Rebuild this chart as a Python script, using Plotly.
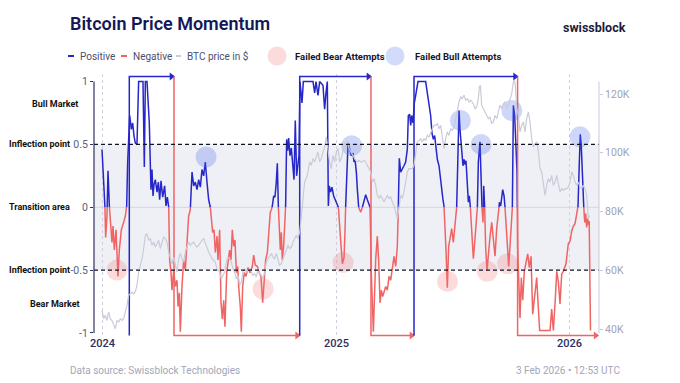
import pandas as pd
import plotly.graph_objects as go

BASE = pd.Timestamp("2024-01-01")

# ---------------- data ----------------
# momentum: day offset since 2024-01-01, value in [-1, 1]
momentum_day = [
    0, 2.6, 4.5, 5.7, 7.8, 9.4, 11.5, 13.0, 15.6, 17.2, 19.3, 21.9, 23.5, 25.0, 27.1, 30.2, 33.9, 36.5, 38.6,
    40.1, 41.7, 43.3, 45.9, 48.0, 50.0, 52.1, 54.7, 57.3, 62.5, 64.1, 66.2, 67.8, 70.4, 72.0, 74.0, 76.6, 78.2,
    79.8, 81.3, 83.4, 86.0, 88.1, 90.2, 92.3, 94.9, 98.0, 100.1, 102.2, 104.3, 105.8, 107.9, 109.5, 112.1, 114.7,
    117.3, 118.9, 121.0, 122.5, 125.1, 127.7, 130.3, 133.0, 135.5, 138.1, 140.8, 143.4, 146.0, 148.6, 151.2,
    153.8, 156.4, 159.0, 161.6, 164.2, 166.8, 169.4, 171.0, 173.1, 175.2, 177.2, 179.9, 181.4, 184.0, 186.1,
    188.2, 190.3, 192.3, 195.0, 197.6, 199.6, 201.7, 203.8, 205.9, 208.0, 210.1, 212.2, 214.2, 216.3, 217.9,
    220.0, 222.6, 225.2, 228.3, 231.4, 235.1, 237.2, 239.8, 242.9, 246.0, 248.6, 251.3, 253.3, 255.9, 258.6,
    261.2, 263.2, 264.8, 266.4, 268.5, 270.5, 272.6, 274.2, 275.8, 277.3, 278.9, 280.5, 282.0, 284.1, 285.7,
    287.2, 288.8, 290.4, 291.9, 294.0, 296.1, 298.2, 300.3, 302.3, 304.4, 306.5, 308.1, 309.6, 312.8, 314.9,
    330.0, 332.6, 334.7, 337.8, 340.4, 345.6, 348.2, 350.3, 352.4, 354.0, 355.5, 357.6, 359.7, 362.3, 364.9,
    367.5, 369.6, 371.0, 373.5, 376.0, 378.5, 380.0, 381.1, 384.8, 387.9, 390.0, 392.6, 394.1, 395.7, 397.8,
    399.4, 400.9, 402.5, 404.6, 407.2, 409.8, 412.4, 415.0, 417.6, 419.2, 421.2, 424.4, 428.0, 430.6, 432.7,
    434.8, 436.9, 439.0, 441.1, 443.7, 446.3, 448.9, 451.5, 454.1, 456.7, 459.3, 461.9, 463.5, 465.0, 467.1,
    469.7, 472.3, 474.9, 477.5, 479.1, 481.2, 482.8, 484.3, 486.4, 488.5, 490.6, 494.2, 506.2, 508.8, 511.4,
    514.0, 516.1, 518.2, 520.3, 522.4, 524.5, 527.1, 529.7, 531.2, 533.3, 534.9, 536.5, 538.0, 540.1, 542.2,
    544.3, 546.9, 549.5, 552.1, 554.7, 558.4, 559.9, 561.5, 563.1, 564.6, 566.2, 567.8, 569.3, 571.4, 573.0,
    574.5, 576.1, 578.2, 580.8, 582.9, 585.0, 587.0, 588.6, 591.2, 592.8, 594.3, 595.9, 597.0, 598.5, 600.1,
    602.2, 604.3, 606.9, 609.5, 612.1, 614.7, 617.3, 619.9, 621.5, 623.5, 626.7, 628.8, 630.3, 632.4, 634.5,
    636.1, 638.1, 640.2, 641.8, 643.4, 645.4, 647.5, 649.1, 650.1, 652.2, 653.8, 655.8, 658.0, 660.5, 663.1,
    665.8, 668.3, 671.0, 673.6, 676.7, 679.9, 682.4, 684.5, 690.2, 700.7, 703.3, 705.9, 708.5, 711.2, 713.7,
    716.3, 719.0, 721.5, 725.7, 729.3, 732.0, 734.6, 737.2, 739.8, 742.5, 744.5, 746.5, 748.0, 749.5, 751.0,
    752.5, 753.5, 755.0, 756.5, 758.0, 759.5, 761.0, 762.0, 763.0, 764.0,
]
momentum_val = [
    0.46, 0.20, 0.02, -0.24, -0.07, 0.29, 0.01, -0.12, -0.28, -0.15, -0.34, -0.18, -0.42, -0.55, -0.34, -0.18, -0.12, -0.07, 0.01,
    0.35, 0.49, 0.73, 0.62, 0.67, 0.57, 0.51, 0.50, 1.0, 1.0, 1.0, 0.32, 1.0, 1.0, 0.86, 0.67, 0.14, 0.30,
    0.09, 0.18, 0.22, 0.12, 0.20, 0.06, 0.21, 0.08, 0.17, 0.01, 0.08, 0.01, -0.42, -0.52, -0.66, -0.50, -0.63,
    -0.58, -0.79, -0.68, -0.99, -0.63, -0.42, -0.50, -0.31, -0.07, -0.02, 0.28, 0.17, 0.20, 0.14, 0.22,
    0.16, 0.30, 0.25, 0.36, 0.20, 0.06, 0.0, -0.12, -0.20, -0.18, -0.36, -0.23, -0.42, -0.18, -0.76,
    -0.89, -0.74, -0.95, -0.52, -0.42, -0.34, -0.42, -0.18, -0.31, -0.26, -0.52, -0.47, -0.66, -0.79, -0.99,
    -0.63, -0.52, -0.55, -0.48, -0.52, -0.47, -0.38, -0.46, -0.47, -0.52, -0.55, -0.76, -0.58, -0.42, -0.36,
    -0.20, -0.04, -0.02, 0.01, 0.09, 0.08, 0.20, 0.35, 0.01, -0.18, -0.34, -0.20, -0.42, -0.31, -0.12,
    0.01, 0.54, 0.45, 0.55, 0.41, 0.47, 0.30, 0.22, 0.69, 0.25, 0.34, 0.41, 1.0, 0.83, 1.0,
    1.0, 0.91, 1.0, 0.89, 1.0, 0.97, 0.78, 0.91, 1.0, 0.01, 0.17, 0.12, 0.16, 0.09, 0.06,
    0.02, 0.01, -0.12, -0.28, -0.45, -0.40, -0.20, 0.01, 0.51, 0.46, 0.41, 0.43, 0.36, 0.38, 0.28,
    0.14, 0.01, -0.02, -0.04, 0.0, 0.06, 0.10, 0.06, 0.02, 0.01, -0.52, -0.99, -0.42, -0.23, -0.42,
    -0.76, -0.66, -0.71, -0.67, -0.63, -0.66, -0.55, -0.58, -0.50, -0.39, -0.47, -0.31, 0.01, 0.39, 0.28,
    0.30, 0.33, 0.36, 0.46, 0.73, 0.74, 0.65, 0.73, 0.67, 0.83, 0.89, 1.0, 1.0, 0.91, 0.83,
    0.73, 0.59, 0.54, 0.57, 0.46, 0.38, 0.33, 0.20, 0.12, 0.06, 0.01, -0.26, -0.34, -0.64, -0.31,
    -0.25, -0.17, -0.28, -0.15, 0.0, 0.77, 0.62, 0.49, 0.41, 0.33, 0.38, 0.34, 0.37, 0.20, 0.04,
    0.09, 0.0, -0.17, -0.41, -0.28, -0.12, -0.02, 0.36, 0.52, 0.25, 0.0, -0.12, 0.17, 0.0, -0.33,
    -0.50, -0.36, -0.23, -0.12, -0.28, -0.39, -0.17, -0.07, 0.04, 0.01, 0.14, 0.09, 0.0, -0.20, -0.33,
    -0.47, -0.31, -0.12, 0.0, 0.81, 0.73, 0.49, 0.28, -0.31, -0.64, -0.88, -0.56, -0.74, -0.51, -0.45,
    -0.37, -0.48, -0.39, -0.85, -0.72, -0.56, -0.80, -0.98, -0.98, -0.98, -0.81, -0.98, -0.77, -0.51, -0.59,
    -0.77, -0.53, -0.51, -0.45, -0.29, -0.27, -0.19, -0.15, -0.13, -0.05, 0.01, 0.35, 0.58, 0.50, 0.30,
    0.10, 0.0, -0.12, -0.05, -0.16, -0.09, -0.14, -0.11, -0.98, -0.98,
]

# BTC price: day offset since 2024-01-01, price in thousand USD
price_day = [
    0.0, 2.6, 5.2, 7.8, 10.4, 13.0, 15.6, 18.2, 20.9, 23.5, 26.1, 28.7, 31.3, 33.9, 36.5, 39.1, 41.7, 44.3,
    46.9, 49.5, 52.1, 54.7, 57.3, 59.9, 62.6, 65.2, 67.8, 70.4, 73.0, 75.6, 78.2, 80.8, 83.4, 86.0, 88.6,
    91.2, 93.8, 96.4, 99.1, 101.7, 104.3, 106.9, 109.5, 112.1, 114.7, 117.3, 119.9, 122.5, 125.1, 127.7,
    130.3, 133.0, 135.5, 138.1, 140.8, 143.4, 146.0, 148.6, 151.2, 153.8, 156.4, 159.0, 161.6, 164.2, 166.8,
    169.4, 172.0, 174.6, 177.2, 179.9, 184.0, 186.6, 189.2, 191.8, 194.4, 197.0, 199.6, 202.3, 204.9, 207.5,
    210.1, 212.7, 215.3, 217.9, 220.5, 223.1, 225.7, 228.3, 230.9, 233.5, 236.1, 238.7, 241.4, 244.0, 246.6,
    249.2, 251.8, 254.4, 257.0, 259.6, 262.2, 264.8, 267.4, 270.0, 272.6, 275.2, 277.8, 280.4, 283.1, 285.7,
    288.3, 290.9, 293.5, 296.1, 298.7, 301.3, 303.9, 306.5, 309.1, 310.7, 312.8, 314.9, 316.9, 319.5, 322.2,
    324.8, 327.4, 330.0, 332.6, 335.2, 337.8, 340.4, 343.0, 345.6, 348.2, 350.8, 353.4, 356.0, 358.6, 361.2,
    363.9, 366.5, 369.1, 371.7, 374.3, 376.9, 379.5, 381.1, 383.7, 386.3, 388.9, 391.5, 394.1, 396.7, 399.4,
    402.0, 404.6, 407.2, 409.8, 412.4, 415.0, 417.6, 420.2, 422.8, 425.4, 428.0, 430.6, 433.2, 435.8, 438.5,
    441.1, 443.7, 446.3, 448.9, 451.5, 454.1, 456.7, 459.3, 461.9, 463.5, 465.6, 467.1, 469.7, 472.3, 474.9,
    477.5, 480.2, 482.8, 485.4, 488.0, 490.6, 493.2, 495.8, 498.4, 501.0, 503.6, 506.2, 508.8, 511.4, 514.0,
    516.6, 519.3, 521.9, 524.5, 527.1, 529.7, 532.3, 534.9, 537.5, 540.1, 542.7, 545.3, 547.9, 550.5, 553.1,
    555.7, 558.3, 561.0, 563.6, 566.2, 568.8, 571.4, 574.0, 576.6, 580.8, 583.4, 586.0, 588.6, 590.2, 591.8,
    593.8, 596.5, 599.1, 601.7, 604.3, 606.9, 609.5, 612.1, 614.7, 617.3, 619.9, 622.5, 625.1, 627.7, 630.3,
    632.9, 635.6, 638.2, 640.8, 643.4, 644.9, 646.5, 648.6, 651.2, 653.8, 656.4, 659.0, 661.6, 664.2, 666.8,
    669.4, 672.0, 674.6, 677.3, 679.9, 682.5, 685.1, 687.7, 690.3, 692.9, 695.5, 698.1, 700.7, 703.3, 705.9,
    708.5, 711.1, 713.7, 716.4, 719.0, 721.6, 724.2, 726.8, 729.4, 732.0, 734.6, 737.2, 739.8, 742.4, 745.0,
    747.6, 750.2, 752.8, 755.4, 758.1, 760.7, 762.2,
]
price_k = [
    46.4, 43.5, 44.7, 42.9, 45.8, 43.5, 42.9, 41.3, 40.1, 42.9, 42.4, 43.5, 42.9, 43.5, 45.8, 48.1, 51.5, 52.0,
    52.6, 52.0, 52.6, 54.9, 59.4, 61.7, 63.9, 67.4, 71.9, 72.5, 70.2, 70.8, 68.5, 69.6, 67.9, 69.1, 70.2,
    67.4, 69.6, 71.3, 70.8, 69.6, 66.2, 63.9, 62.2, 64.5, 61.7, 59.4, 63.9, 65.7, 63.9, 62.8,
    66.2, 68.5, 69.6, 68.5, 69.1, 69.6, 68.5, 67.9, 68.5, 69.6, 70.2, 70.8, 69.1, 67.4, 66.2,
    65.1, 63.9, 63.4, 62.8, 60.5, 59.4, 57.1, 58.3, 59.4, 62.8, 64.5, 63.9, 62.8, 60.5, 59.4,
    57.1, 58.3, 54.9, 56.0, 59.4, 60.5, 59.4, 60.0, 60.5, 59.4, 58.3, 58.8, 57.7, 60.5, 58.8,
    58.3, 57.1, 59.4, 62.8, 63.9, 65.1, 65.7, 64.5, 63.9, 65.7, 63.9, 61.7, 62.2, 63.9, 65.7,
    67.4, 68.5, 67.4, 67.9, 69.6, 70.8, 71.9, 70.8, 73.0, 75.9, 79.8, 85.5, 90.0, 91.2, 93.5,
    96.9, 95.7, 98.0, 96.9, 99.1, 100.3, 96.9, 98.0, 100.3, 102.0, 105.4, 100.3, 96.9, 94.6, 99.1,
    96.9, 100.3, 101.4, 96.9, 98.0, 101.4, 103.7, 101.4, 104.2, 101.4, 100.3, 99.1, 98.0, 97.4, 96.9,
    97.4, 96.9, 96.9, 97.4, 96.9, 95.7, 94.6, 93.5, 90.0, 91.2, 88.9, 85.5, 84.4, 85.5, 84.4,
    83.2, 84.4, 85.5, 84.4, 85.0, 83.2, 82.1, 79.8, 77.6, 79.8, 83.2, 85.5, 84.4, 86.6, 90.0,
    93.5, 94.6, 94.6, 94.6, 95.7, 99.1, 103.7, 104.2, 104.8, 103.7, 104.8, 104.2, 105.9, 105.4, 107.1,
    108.2, 109.3, 109.3, 109.9, 108.2, 109.3, 104.8, 101.4, 104.8, 107.1, 105.9, 108.2, 107.6, 108.8, 111.6,
    113.9, 117.3, 119.0, 118.4, 119.6, 117.9, 118.4, 117.3, 117.9, 116.7, 115.0, 115.6, 118.4, 122.4, 123.0,
    116.2, 115.0, 113.9, 112.7, 111.6, 112.2, 109.9, 110.5, 112.7, 111.6, 113.9, 116.2, 115.0, 116.7, 117.3,
    115.0, 116.2, 118.4, 120.1, 124.1, 124.7, 123.0, 115.0, 112.7, 107.1, 109.3, 110.5, 107.1, 111.6, 113.9,
    110.5, 104.8, 102.0, 103.1, 103.7, 100.3, 94.6, 93.5, 88.9, 85.5, 88.9, 91.2, 90.0, 92.3, 88.9,
    90.0, 92.3, 88.9, 86.6, 87.8, 87.2, 87.8, 87.8, 88.4, 90.0, 93.5, 92.3, 90.0, 88.9, 90.0,
    88.4, 87.8, 88.9, 87.8, 85.5, 77.6, 78.7,
]

# regime boxes (day offsets of regime changes)
regime_start_day = [42.7, 112.6, 309.2, 420.7, 488.0, 650.0]
regime_kind = ["bull", "bear", "bull", "bear", "bull", "bear"]
regime_last_day = 776.0

# failed attempts markers
bear_fail_day = [23.5, 251.8, 377.0, 540.4, 602.4, 634.5]
bear_fail_val = [-0.50, -0.65, -0.44, -0.59, -0.51, -0.45]
bull_fail_day = [162.7, 390.5, 560.5, 592.8, 641.0, 747.6]
bull_fail_val = [0.40, 0.49, 0.69, 0.50, 0.77, 0.56]

y_tick_vals = [-1, -0.5, 0, 0.5, 1]
y_tick_text = ["-1", "-0.5", "0", "0.5", "1"]
price_tick_vals = [40, 60, 80, 100, 120]
price_tick_text = ["40K", "60K", "80K", "100K", "120K"]
year_ticks = ["2024-01-01", "2025-01-01", "2026-01-01"]
year_text = ["2024", "2025", "2026"]

zone_labels = ["Bull Market", "Inflection point", "Transition area", "Inflection point", "Bear Market"]
zone_vals = [0.82, 0.5, 0.0, -0.5, -0.77]

# ---------------- styling ----------------
FONT = "Roboto"
BLUE = "#2626c9"
RED = "#f06464"
GRAY = "#c9cbd9"
BOX_TOP, BOX_BOTTOM = 1.04, -1.02

# page coordinates of the reference (the page body adds an 8px offset)
OFF = 8
W, H = 680 - OFF, 383 - OFF
PL, PR, PT, PB = 94, 599, 74, 338   # plot area in page pixels


def px(x):
    return (x - PL) / (PR - PL)


def py(y):
    return (PB - y) / (PB - PT)


def to_dates(days):
    return [BASE + pd.Timedelta(days=float(d)) for d in days]


# split momentum into positive / negative parts
pos_x, pos_y, neg_x, neg_y = [], [], [], []
for i, (d, v) in enumerate(zip(momentum_day, momentum_val)):
    if i > 0:
        d0, v0 = momentum_day[i - 1], momentum_val[i - 1]
        if (v0 > 0 > v) or (v0 < 0 < v):
            dc = d0 + (d - d0) * v0 / (v0 - v)
            pos_x.append(dc); pos_y.append(0)
            neg_x.append(dc); neg_y.append(0)
    pos_x.append(d); pos_y.append(v if v >= 0 else None)
    neg_x.append(d); neg_y.append(v if v <= 0 else None)

fig = go.Figure()

fig.add_trace(go.Scatter(x=to_dates(price_day), y=price_k, yaxis="y2", mode="lines",
                         line=dict(color=GRAY, width=1.2), name="BTC price in $", hoverinfo="skip"))
fig.add_trace(go.Scatter(x=to_dates(neg_x), y=neg_y, mode="lines",
                         line=dict(color=RED, width=1.5), name="Negative", connectgaps=False))
fig.add_trace(go.Scatter(x=to_dates(pos_x), y=pos_y, mode="lines",
                         line=dict(color=BLUE, width=1.5), name="Positive", connectgaps=False))

ends = regime_start_day[1:] + [regime_last_day]
for s, e, k in zip(regime_start_day, ends, regime_kind):
    col = BLUE if k == "bull" else RED
    lvl = BOX_TOP if k == "bull" else BOX_BOTTOM
    other = BOX_BOTTOM if k == "bull" else BOX_TOP
    fig.add_trace(go.Scatter(x=to_dates([s, s, e]), y=[other, lvl, lvl], mode="lines",
                             line=dict(color=col, width=1.5), hoverinfo="skip"))
    # arrow head at the end of each regime line
    fig.add_trace(go.Scatter(x=to_dates([e - 4]), y=[lvl], mode="markers",
                             marker=dict(symbol="triangle-right", size=7, color=col, line=dict(width=0)),
                             hoverinfo="skip", cliponaxis=False))

fig.add_trace(go.Scatter(x=to_dates(bear_fail_day), y=bear_fail_val, mode="markers",
                         marker=dict(size=21, color="rgba(240,110,110,0.25)", line=dict(width=0)),
                         name="Failed Bear Attempts"))
fig.add_trace(go.Scatter(x=to_dates(bull_fail_day), y=bull_fail_val, mode="markers",
                         marker=dict(size=21, color="rgba(80,110,235,0.28)", line=dict(width=0)),
                         name="Failed Bull Attempts"))

annotations = []
shapes = [
    dict(type="rect", xref="paper", yref="y", x0=0, x1=1, y0=-0.5, y1=0.5,
         fillcolor="#eff0f6", line=dict(width=0), layer="below"),
    dict(type="line", xref="paper", yref="y", x0=0, x1=1, y0=0, y1=0,
         line=dict(color="#d3d5e0", width=1), layer="below"),
    dict(type="line", xref="paper", yref="y", x0=0, x1=1, y0=0.5, y1=0.5,
         line=dict(color="#111425", width=1.3, dash="4px,3px"), layer="above"),
    dict(type="line", xref="paper", yref="y", x0=0, x1=1, y0=-0.5, y1=-0.5,
         line=dict(color="#111425", width=1.3, dash="4px,3px"), layer="above"),
    dict(type="line", xref="paper", yref="y", x0=0, x1=0, y0=-1.0, y1=1.0,
         line=dict(color="#2e3160", width=1.2), layer="above"),
    dict(type="line", xref="paper", yref="y", x0=1, x1=1, y0=-1.0, y1=1.0,
         line=dict(color="#c8cadc", width=1), layer="above"),
]

# ---- custom legend ----
LEG_Y = 56
legend_lines = [(68, 74, BLUE, "Positive", 78), (121, 127, RED, "Negative", 131), (176, 181, GRAY, "BTC price in $", 185)]
for x0, x1, col, label, tx in legend_lines:
    shapes.append(dict(type="line", xref="paper", yref="paper", x0=px(x0), x1=px(x1), y0=py(LEG_Y), y1=py(LEG_Y),
                       line=dict(color=col, width=2)))
    annotations.append(dict(x=px(tx), y=py(LEG_Y), xref="paper", yref="paper", xanchor="left", yanchor="middle",
                            text=label, showarrow=False, font=dict(family=FONT, size=10, color="#4b4f6b")))
legend_dots = [(277, "rgba(240,110,110,0.25)", "Failed Bear Attempts", 293), (395, "rgba(80,110,235,0.25)", "Failed Bull Attempts", 413)]
for cx, col, label, tx in legend_dots:
    shapes.append(dict(type="circle", xref="paper", yref="paper", xsizemode="pixel", ysizemode="pixel",
                       xanchor=px(cx), yanchor=py(LEG_Y), x0=-9.5, x1=9.5, y0=-9.5, y1=9.5,
                       fillcolor=col, line=dict(width=0)))
    annotations.append(dict(x=px(tx), y=py(LEG_Y), xref="paper", yref="paper", xanchor="left", yanchor="middle",
                            text=f"<b>{label}</b>", showarrow=False, font=dict(family=FONT, size=9.5, color="#15172e")))

# ---- titles, year labels and footer ----
annotations += [
    dict(x=px(68), y=py(23), xref="paper", yref="paper", xanchor="left", yanchor="middle", showarrow=False,
         text="Bitcoin Price Momentum", font=dict(family=FONT, size=18, color="#14175a", weight=600)),
    dict(x=px(628), y=py(27), xref="paper", yref="paper", xanchor="right", yanchor="middle", showarrow=False,
         text="<b>swissblock</b>", font=dict(family=FONT, size=12.5, color="#1a1c3a")),
    dict(x=px(68), y=py(370), xref="paper", yref="paper", xanchor="left", yanchor="middle", showarrow=False,
         text="Data source: Swissblock Technologies", font=dict(family=FONT, size=10, color="#a3a6b8")),
    dict(x=px(622), y=py(370), xref="paper", yref="paper", xanchor="right", yanchor="middle", showarrow=False,
         text="3 Feb 2026 • 12:53 UTC", font=dict(family=FONT, size=10, color="#a3a6b8")),
]
for t, lab in zip(year_ticks, year_text):
    annotations.append(dict(x=t, y=py(343), xref="x", yref="paper", xanchor="center", yanchor="middle",
                            showarrow=False, text=lab,
                            font=dict(family=FONT, size=11, color="#2b2e5e", weight=500)))
zone_right = [80, 72, 71.5, 72, 82]
for lab, v, xr in zip(zone_labels, zone_vals, zone_right):
    annotations.append(dict(x=px(xr), y=v, xref="paper", yref="y", xanchor="right", yanchor="middle",
                            showarrow=False, text=f"<b>{lab}</b>",
                            font=dict(family=FONT, size=9, color="#111111")))

x_start = BASE + pd.Timedelta(days=(PL - 102) * 1.564)
x_end = BASE + pd.Timedelta(days=(PR - 102) * 1.564)

fig.update_layout(
    width=W, height=H, autosize=False,
    margin=dict(l=PL - OFF, r=680 - PR, t=PT - OFF, b=383 - PB, pad=0),
    paper_bgcolor="white", plot_bgcolor="white",
    showlegend=False,
    font=dict(family=FONT),
    xaxis=dict(type="date", range=[x_start, x_end], tickvals=year_ticks, ticktext=year_text,
               showticklabels=False,
               showgrid=True, gridcolor="#cfd1dc", griddash="dot", gridwidth=1,
               zeroline=False, showline=False, ticks=""),
    yaxis=dict(range=[-1.04, 1.06], tickvals=y_tick_vals, ticktext=y_tick_text,
               showgrid=False, zeroline=False, showline=False, ticks="outside", ticklen=3,
               tickcolor="#2e3160", tickfont=dict(family=FONT, size=10.5, color="#5a5e7a")),
    yaxis2=dict(overlaying="y", side="right", range=[36.94, 126.81], tickvals=price_tick_vals,
                ticktext=price_tick_text, showgrid=False, zeroline=False, showline=False,
                ticks="outside", ticklen=3, tickcolor="#c8cadc",
                tickfont=dict(family=FONT, size=10.5, color="#a0a3b6")),
    shapes=shapes,
    annotations=annotations,
)

fig.write_html("out.html")
